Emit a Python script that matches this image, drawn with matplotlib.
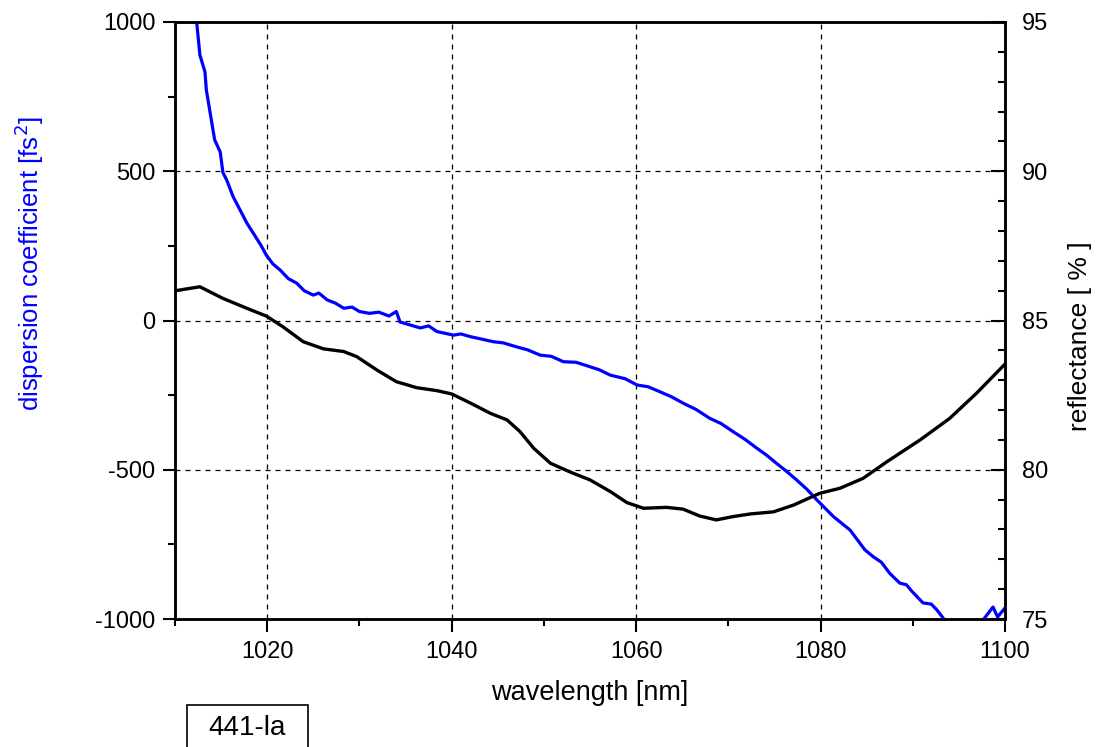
import matplotlib
matplotlib.use("Agg")
import matplotlib.pyplot as plt
from matplotlib.patches import Rectangle
from matplotlib.ticker import MultipleLocator

plt.rcParams['font.family'] = ['Liberation Sans', 'DejaVu Sans']
plt.rcParams['axes.unicode_minus'] = False

# dispersion coefficient (left axis)
wl_disp = [1011.5, 1012.35, 1012.7, 1013.25, 1013.4, 1014.3, 1014.9, 1015.2, 1015.6,
           1016.3, 1017.8, 1019.3, 1019.9, 1020.6, 1021.4, 1022.3, 1023.2, 1024.0,
           1025.0, 1025.6, 1026.5, 1027.4, 1028.3, 1029.2, 1030.0, 1031.1, 1032.1,
           1033.2, 1034.0, 1034.4, 1035.5, 1036.6, 1037.5, 1038.4, 1040.2, 1041.0,
           1042.0, 1043.2, 1044.5, 1045.6, 1047.0, 1048.2, 1049.6, 1050.8, 1052.1,
           1053.5, 1055.0, 1056.0, 1057.2, 1058.8, 1060.1, 1061.3, 1062.6, 1063.8,
           1065.1, 1066.5, 1068.0, 1069.2, 1070.5, 1071.8, 1073.1, 1074.1, 1075.2,
           1076.3, 1077.4, 1078.5, 1079.6, 1081.4, 1083.2, 1084.8, 1085.7, 1086.6,
           1087.5, 1088.6, 1089.3, 1089.9, 1091.1, 1092.0, 1092.6, 1093.3, 1093.8,
           1097.5, 1097.7, 1098.7, 1099.2, 1100.0]
disp = [1200, 1000, 889, 833, 772, 605, 565, 495, 471,
        415, 326, 253, 219, 190, 169, 140, 125, 100,
        85, 92, 69, 58, 41, 45, 30, 24, 28,
        15, 30, -5, -15, -25, -18, -37, -49, -45,
        -54, -62, -71, -75, -88, -98, -116, -120, -138,
        -140, -155, -165, -183, -195, -216, -222, -239, -255,
        -277, -298, -328, -345, -372, -398, -428, -450, -478,
        -505, -534, -565, -601, -657, -702, -768, -791, -810,
        -847, -880, -885, -907, -946, -950, -969, -997, -1040,
        -1040, -1000, -960, -993, -963]

# reflectance (right axis)
wl_refl = [1010.1, 1012.7, 1015.2, 1018.1, 1019.9, 1021.7, 1023.9, 1026.1, 1028.3,
           1029.7, 1031.9, 1034.0, 1036.2, 1038.4, 1040.0, 1042.0, 1044.2, 1046.0,
           1047.4, 1048.9, 1050.7, 1052.8, 1055.0, 1057.2, 1059.0, 1060.8, 1063.3,
           1065.1, 1066.9, 1068.7, 1070.5, 1072.4, 1074.9, 1077.1, 1079.9, 1082.1,
           1084.6, 1087.2, 1090.8, 1094.0, 1096.9, 1100.0]
refl = [86.0, 86.13, 85.74, 85.37, 85.15, 84.79, 84.29, 84.05, 83.96,
        83.79, 83.34, 82.95, 82.75, 82.65, 82.54, 82.24, 81.89, 81.67,
        81.28, 80.72, 80.22, 79.93, 79.66, 79.27, 78.90, 78.71, 78.74,
        78.68, 78.45, 78.32, 78.43, 78.52, 78.59, 78.82, 79.21, 79.38,
        79.71, 80.27, 81.0, 81.72, 82.56, 83.54]

fig = plt.figure(figsize=(10.96, 7.47), dpi=100)
ax = fig.add_axes([175/1096, 1 - 619/747, 830/1096, 597/747])
ax2 = ax.twinx()

ax.plot(wl_disp, disp, color='#0000ff', lw=2.3, zorder=3)
ax2.plot(wl_refl, refl, color='black', lw=2.4)

ax.set_xlim(1010, 1100)
ax.set_ylim(-1000, 1000)
ax2.set_ylim(75, 95)

ax.xaxis.set_major_locator(MultipleLocator(20))
ax.xaxis.set_minor_locator(MultipleLocator(10))
ax.yaxis.set_major_locator(MultipleLocator(500))
ax.yaxis.set_minor_locator(MultipleLocator(250))
ax2.yaxis.set_major_locator(MultipleLocator(5))
ax2.yaxis.set_minor_locator(MultipleLocator(1))

ax.tick_params(which='major', direction='out', length=9, width=1.5, labelsize=17, pad=5)
ax.tick_params(which='minor', direction='out', length=5, width=1.5)
ax.tick_params(axis='x', which='major', pad=7)
ax2.tick_params(which='major', direction='in', length=10, width=1.5, labelsize=17, pad=12)
ax2.tick_params(which='minor', direction='in', length=5, width=1.5)

for a in (ax, ax2):
    for s in a.spines.values():
        s.set_linewidth(1.8)

ax.grid(True, which='major', color='black', linestyle=(0, (4, 4)), lw=0.9)
ax.set_xticks([1020, 1040, 1060, 1080, 1100])

ax.set_xlabel('wavelength [nm]', fontsize=19.5, labelpad=12)
ax.set_ylabel('dispersion coefficient [fs$^2$]', fontsize=18.5, color='#0000ff')
ax2.set_ylabel('reflectance [ % ]', fontsize=19)
ax.yaxis.set_label_coords(-0.155, 0.595)
ax2.yaxis.set_label_coords(1.076, 0.474)

fig.patches.append(Rectangle((186.7/1096, -0.05), 121/1096, 0.05 + 1 - 705/747,
                             transform=fig.transFigure, fill=False, lw=1.2, ec='black'))
fig.text(247/1096, 1 - 728/747, '441-la', fontsize=20, ha='center', va='center')

fig.savefig('out.png', dpi=100)
